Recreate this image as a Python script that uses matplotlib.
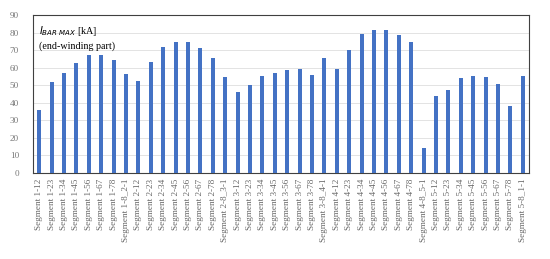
import matplotlib
matplotlib.use("Agg")
import matplotlib.pyplot as plt
import numpy as np

labels = [
    "Segment 1-12", "Segment 1-23", "Segment 1-34", "Segment 1-45", "Segment 1-56",
    "Segment 1-67", "Segment 1-78", "Segment 1-8_2-1", "Segment 2-12", "Segment 2-23",
    "Segment 2-34", "Segment 2-45", "Segment 2-56", "Segment 2-67", "Segment 2-78",
    "Segment 2-8_3-1", "Segment 3-12", "Segment 3-23", "Segment 3-34", "Segment 3-45",
    "Segment 3-56", "Segment 3-67", "Segment 3-78", "Segment 3-8_4-1", "Segment 4-12",
    "Segment 4-23", "Segment 4-34", "Segment 4-45", "Segment 4-56", "Segment 4-67",
    "Segment 4-78", "Segment 4-8_5-1", "Segment 5-12", "Segment 5-23", "Segment 5-34",
    "Segment 5-45", "Segment 5-56", "Segment 5-67", "Segment 5-78", "Segment 5-8_1-1",
]
i_bar_max = [
    36, 52, 57, 62.5, 67, 67, 64.5, 56.5, 52.5, 63,
    71.5, 74.5, 74.5, 71, 65.5, 54.5, 46, 50, 55.5, 57,
    58.5, 59, 56, 65.5, 59, 70, 79, 81.5, 81.5, 78.5,
    74.5, 14, 44, 47.5, 54, 55.5, 54.5, 50.5, 38, 55.5,
]
y_ticks = [0, 10, 20, 30, 40, 50, 60, 70, 80, 90]

plt.rcParams["font.family"] = ["Liberation Serif", "DejaVu Serif"]

fig = plt.figure(figsize=(5.5, 2.59), dpi=100)
ax = fig.add_axes([33 / 550, 1 - 173 / 259, (529 - 33) / 550, (173 - 15) / 259])

x = np.arange(len(labels))
ax.bar(x, i_bar_max, width=0.33, color="#4472C4", zorder=3)

ax.set_xlim(-0.5, len(labels) - 0.5)
ax.set_ylim(0, 90)
ax.set_yticks(y_ticks)
ax.set_xticks(x)
ax.set_xticklabels(labels, rotation=90, fontsize=6.6, color="#666666")
ax.tick_params(axis="y", labelsize=6.6, labelcolor="#777777", length=0, pad=10)
ax.tick_params(axis="x", length=0, pad=4)
ax.grid(axis="y", color="#E3E3E3", linewidth=0.7, zorder=0)
for s in ax.spines.values():
    s.set_color("#404040")
    s.set_linewidth(0.8)

ax.text(0.012, 0.94, r"$I_{\mathit{BAR\ MAX}}$ [kA]", transform=ax.transAxes,
        fontsize=7.2, va="top", ha="left")
ax.text(0.012, 0.83, "(end-winding part)", transform=ax.transAxes,
        fontsize=7.2, va="top", ha="left")

fig.savefig("out.png", dpi=100)
